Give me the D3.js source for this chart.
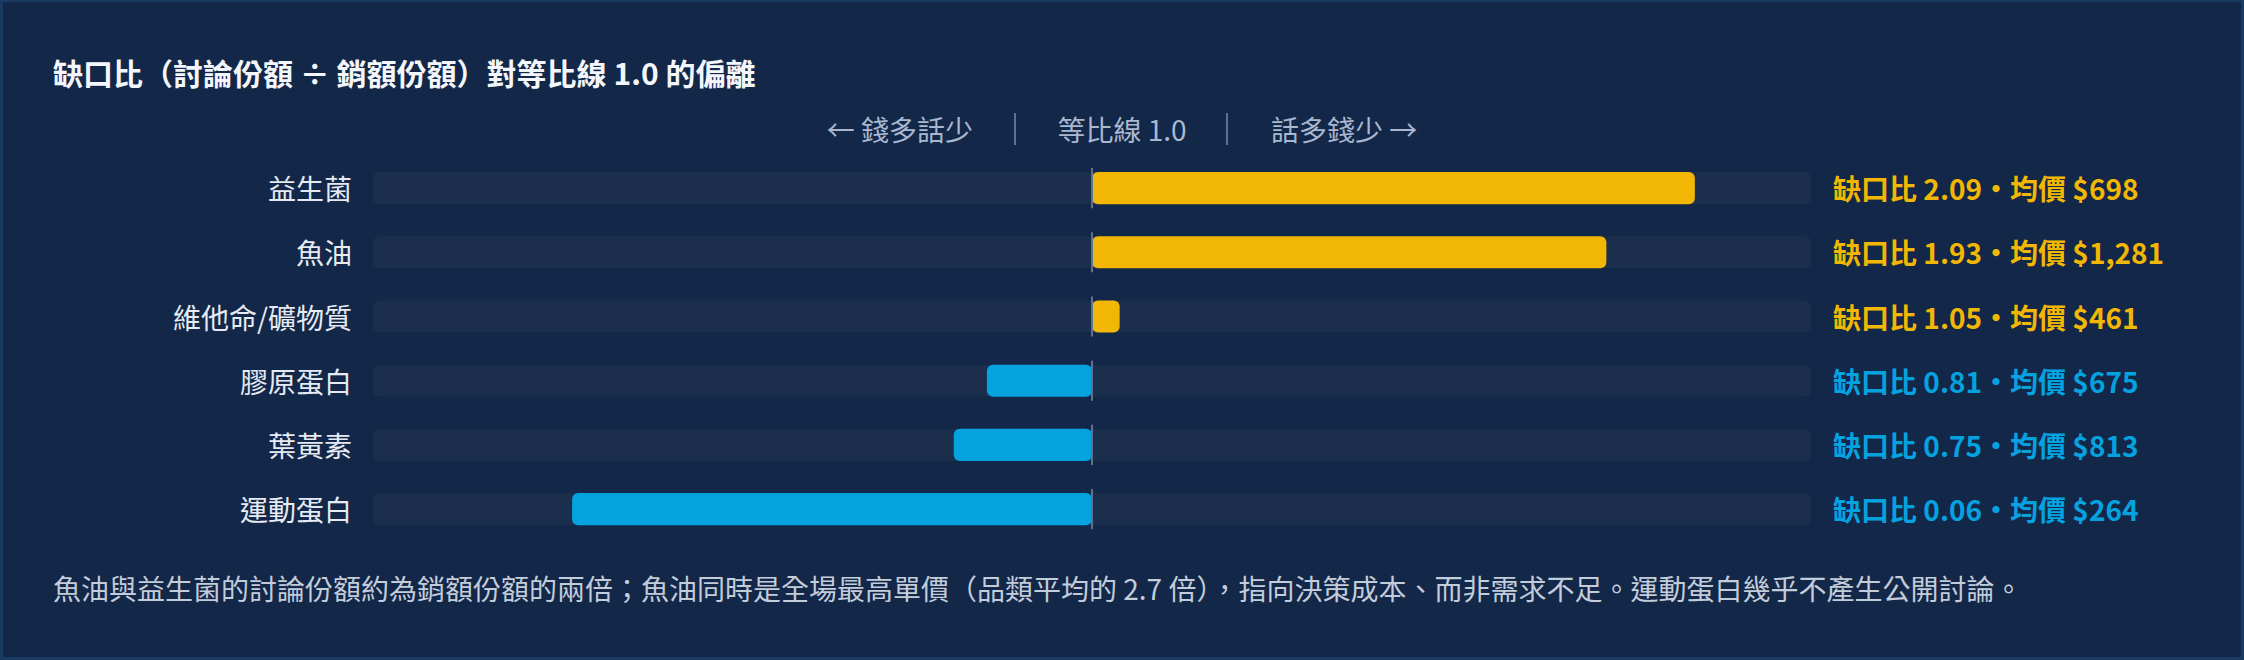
<!DOCTYPE html>
<html>
<head>
<meta charset="utf-8">
<script src="https://cdn.jsdelivr.net/npm/d3@7"></script>
<style>
  html, body { margin: 0; padding: 0; background: #1b3a60; }
  svg { display: block; }
  text { font-family: "Noto Sans CJK TC", "Noto Sans", sans-serif; }
</style>
</head>
<body>
<script>
var width = 2244,
    height = 660;

var categories = ["益生菌", "魚油", "維他命/礦物質", "膠原蛋白", "葉黃素", "運動蛋白"];
var ratios = [2.09, 1.93, 1.05, 0.81, 0.75, 0.06];
var prices = ["$698", "$1,281", "$461", "$675", "$813", "$264"];

var title = "缺口比（討論份額 ÷ 銷額份額）對等比線 1.0 的偏離";
var legendLeft = "← 錢多話少",
    legendMid = "等比線 1.0",
    legendRight = "話多錢少 →";
var footnote = "魚油與益生菌的討論份額約為銷額份額的兩倍；魚油同時是全場最高單價（品類平均的 2.7 倍），指向決策成本、而非需求不足。運動蛋白幾乎不產生公開討論。";

var gold = "#f2b705",
    blue = "#04a3e0";

var svg = d3.select("body").append("svg")
    .attr("width", width)
    .attr("height", height);

// card
svg.append("rect")
    .attr("x", 3)
    .attr("y", 2)
    .attr("width", width - 6)
    .attr("height", height - 5)
    .attr("fill", "#132748");

svg.append("text")
    .attr("x", 53)
    .attr("y", 72)
    .attr("dominant-baseline", "central")
    .attr("font-size", 30)
    .attr("font-weight", 700)
    .attr("fill", "#f3f6fa")
    .text(title);

// legend line
var cx = width / 2, ly = 129;
var legend = svg.append("g")
    .attr("font-size", 28)
    .attr("dominant-baseline", "central");

legend.append("text")
    .attr("x", cx)
    .attr("y", ly)
    .attr("text-anchor", "middle")
    .attr("fill", "#a9b8d0")
    .text(legendMid);
legend.append("text")
    .attr("x", cx - 149)
    .attr("y", ly)
    .attr("text-anchor", "end")
    .attr("fill", "#a9b8d0")
    .text(legendLeft);
legend.append("text")
    .attr("x", cx + 149)
    .attr("y", ly)
    .attr("text-anchor", "start")
    .attr("fill", "#a9b8d0")
    .text(legendRight);
[-107, 105].forEach(function(dx) {
    legend.append("line")
        .attr("x1", cx + dx)
        .attr("x2", cx + dx)
        .attr("y1", ly - 16)
        .attr("y2", ly + 16)
        .attr("stroke", "#5f7191")
        .attr("stroke-width", 2);
});

var x = d3.scaleLinear()
    .domain([-0.3, 2.3])
    .range([373, 1811]);

var y = d3.scaleBand()
    .domain(categories)
    .range([156, 541.2])
    .paddingInner(0.5)
    .paddingOuter(0.25);

var rows = categories.map(function(c, i) {
    return {name: c, ratio: ratios[i], price: prices[i]};
});

var row = svg.selectAll(".row")
    .data(rows)
    .enter()
    .append("g")
    .attr("class", "row");

// track
row.append("rect")
    .attr("x", x.range()[0])
    .attr("y", function(d) { return y(d.name); })
    .attr("width", x.range()[1] - x.range()[0])
    .attr("height", y.bandwidth())
    .attr("rx", 6)
    .attr("fill", "#1b2e4c");

// bar
row.append("rect")
    .attr("x", function(d) { return Math.min(x(1), x(d.ratio)); })
    .attr("y", function(d) { return y(d.name); })
    .attr("width", function(d) { return Math.abs(x(d.ratio) - x(1)); })
    .attr("height", y.bandwidth())
    .attr("rx", 6)
    .attr("fill", function(d) { return d.ratio >= 1 ? gold : blue; });

// parity line
row.append("line")
    .attr("x1", x(1))
    .attr("x2", x(1))
    .attr("y1", function(d) { return y(d.name) - 4; })
    .attr("y2", function(d) { return y(d.name) + y.bandwidth() + 4; })
    .attr("stroke", "#5f7191")
    .attr("stroke-width", 2);

row.append("text")
    .attr("x", x.range()[0] - 21)
    .attr("y", function(d) { return y(d.name) + y.bandwidth() / 2; })
    .attr("text-anchor", "end")
    .attr("dominant-baseline", "central")
    .attr("font-size", 28)
    .attr("fill", "#e6ebf3")
    .text(function(d) { return d.name; });

row.append("text")
    .attr("x", x.range()[1] + 22)
    .attr("y", function(d) { return y(d.name) + y.bandwidth() / 2; })
    .attr("dominant-baseline", "central")
    .attr("font-size", 28)
    .attr("font-weight", 700)
    .attr("fill", function(d) { return d.ratio >= 1 ? gold : blue; })
    .text(function(d) { return "缺口比 " + d.ratio.toFixed(2) + "・均價 " + d.price; });

svg.append("text")
    .attr("x", 53)
    .attr("y", 588)
    .attr("dominant-baseline", "central")
    .attr("font-size", 28)
    .attr("fill", "#c3ccda")
    .text(footnote);
</script>
</body>
</html>
